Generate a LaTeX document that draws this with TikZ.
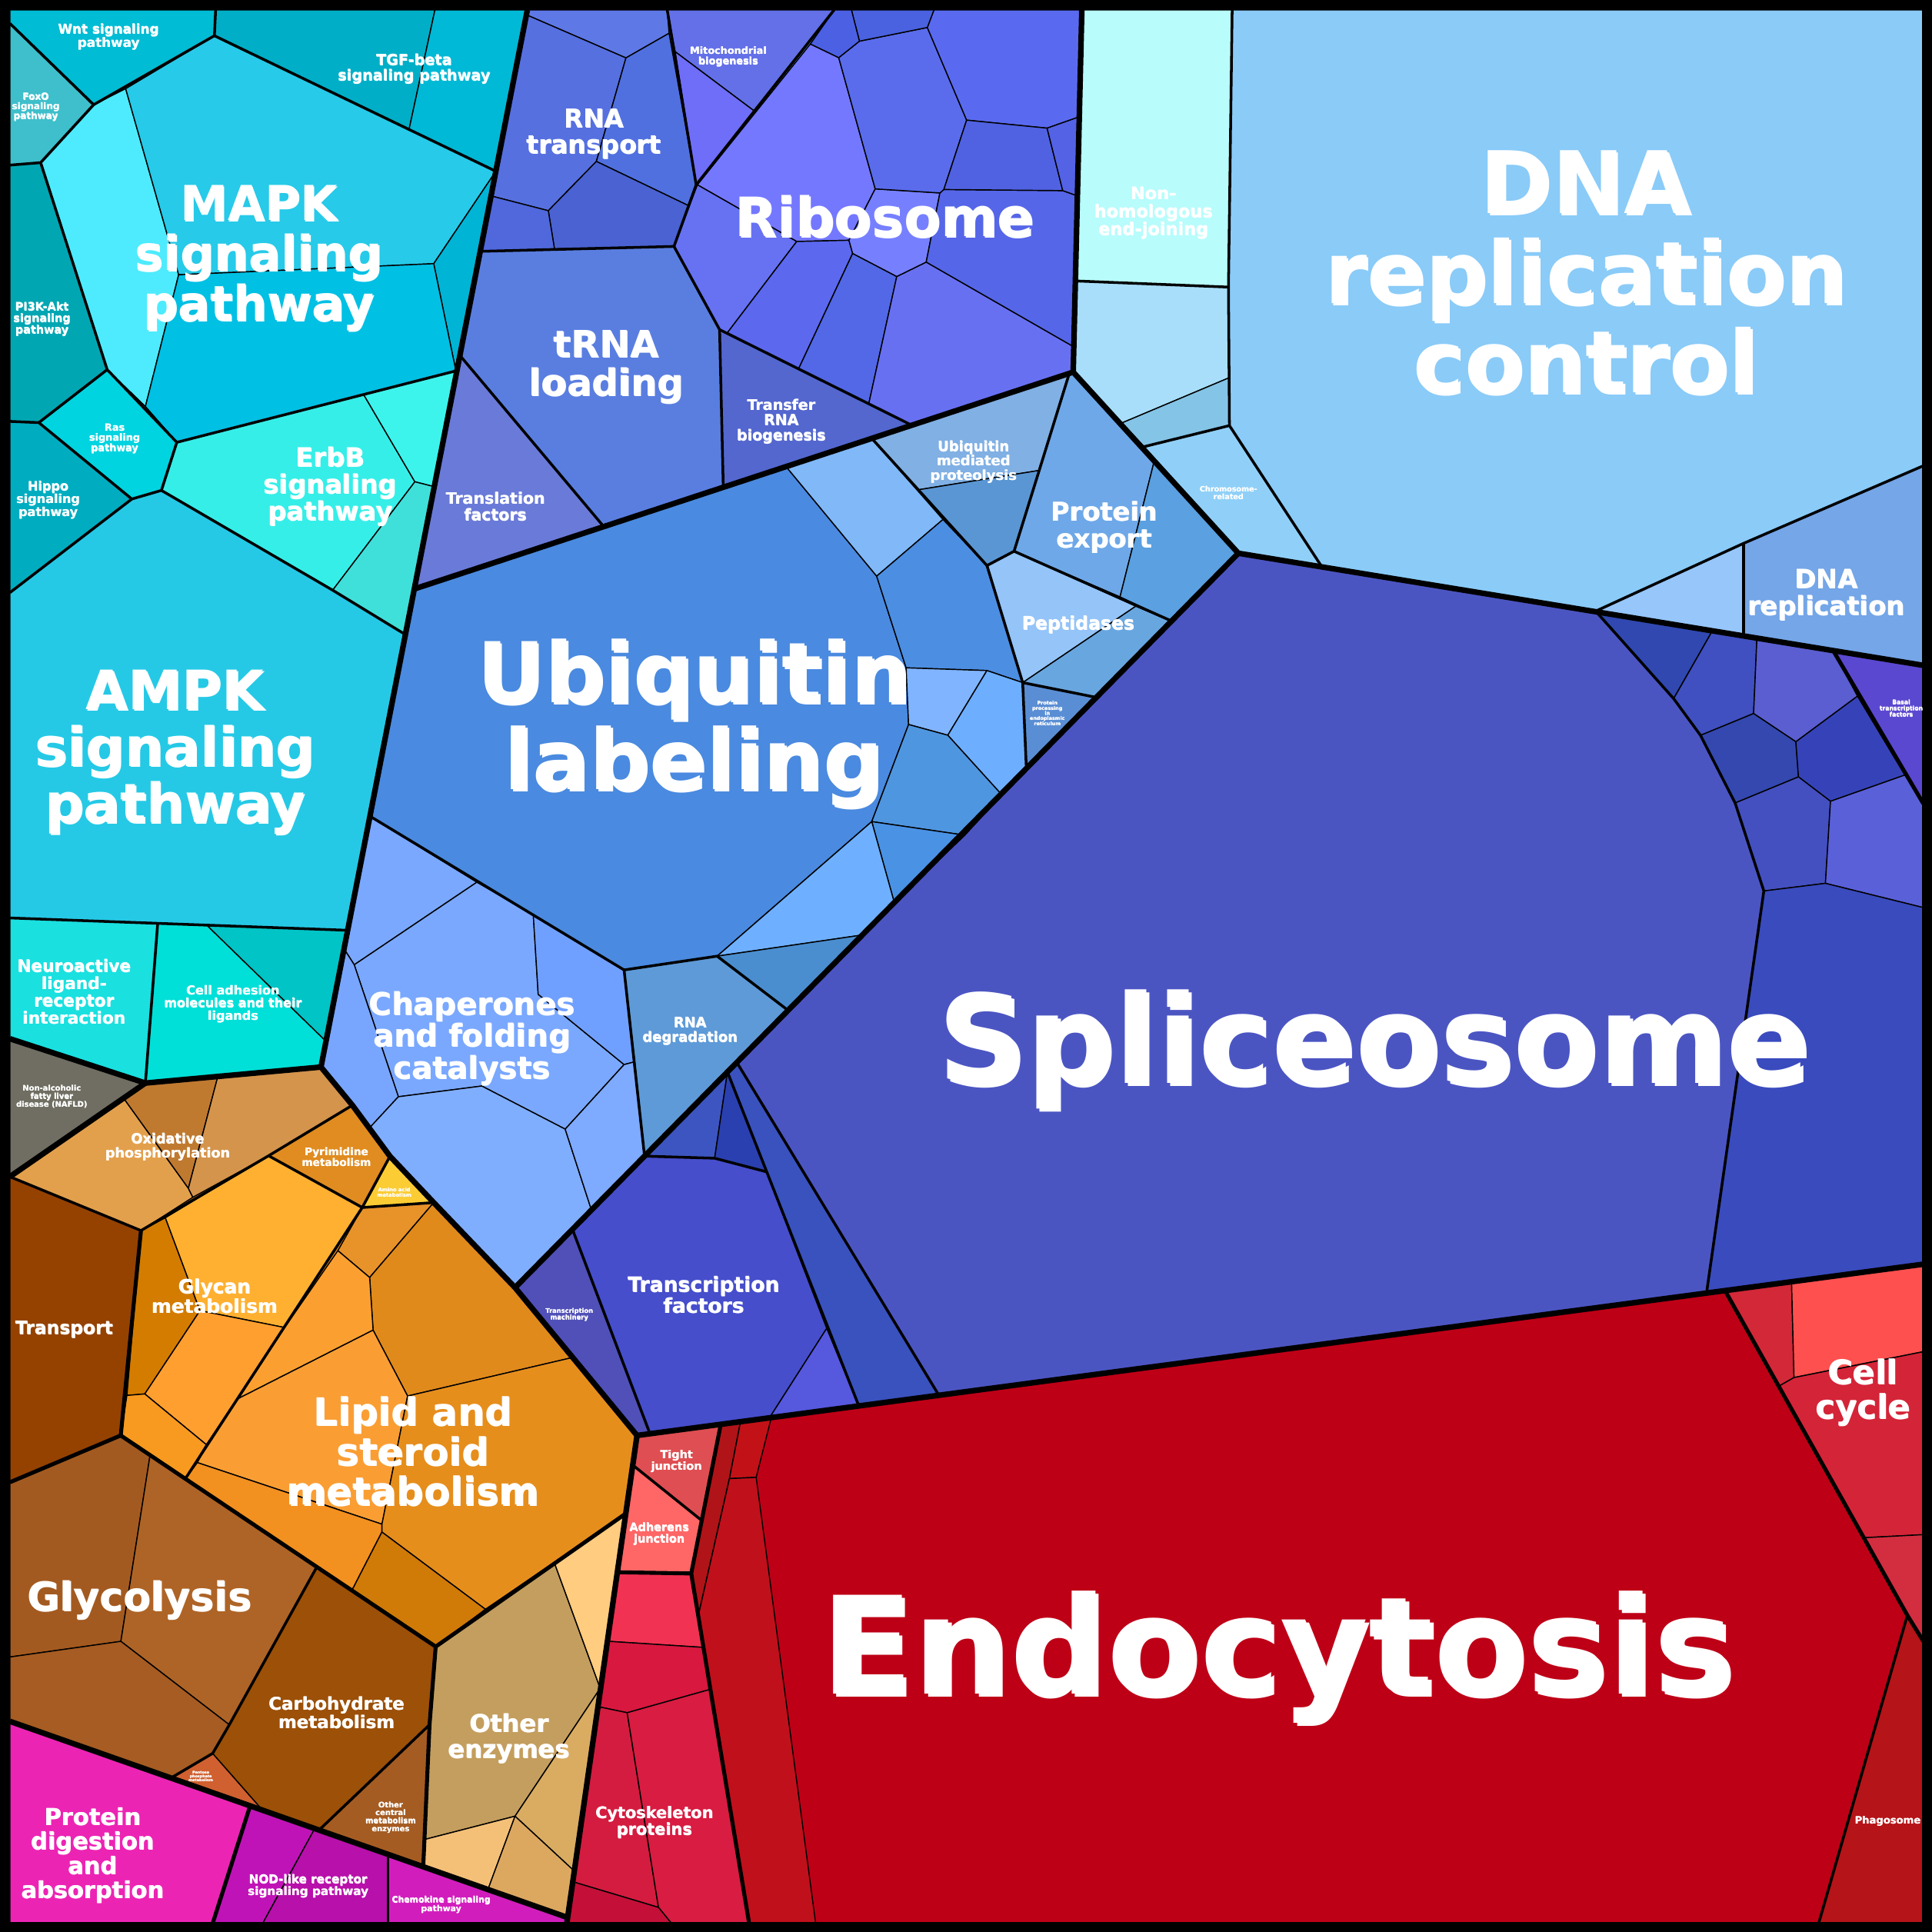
\documentclass[tikz,border=0pt]{standalone}
\usepackage{fontspec}
\setmainfont{DejaVu Sans}
\usetikzlibrary{calc}

\newcommand{\cell}[2]{\definecolor{cellfill}{HTML}{#1}\filldraw[cell] #2 -- cycle;}
\newcommand{\shtxt}[2]{\sbox0{\vbox{\let\\\cr\halign{\hfil##\hfil\cr#2\crcr}}}%
  \rlap{\kern\fpeval{0.025*#1}pt\raisebox{-\fpeval{0.025*#1}pt}{\textcolor{black!85}{\usebox0}}}\usebox0}
\newcommand{\lbl}[5]{%
  \node[lbltext, font={\fontsize{#4}{\fpeval{1.04*#4}}\selectfont\bfseries}] (#1) at (#2,#3) {\shtxt{#4}{#5}};}

\begin{document}
\begin{tikzpicture}[x=1pt,y=-1pt,line join=round]
\tikzstyle{cell} = [draw=black, line width=0.9pt, fill=cellfill]
\tikzstyle{subline} = [draw=black, line width=2.2pt]
\tikzstyle{midline} = [draw=black, line width=3.2pt]
\tikzstyle{groupline} = [draw=black, line width=4.5pt]
\tikzstyle{lbltext} = [text=white, inner sep=0pt]

\useasboundingbox (0,0) rectangle (1568,1568);
\fill[black] (0,0) rectangle (1568,1568);

\cell{24C8E4}{(8,8) -- (428,8) -- (260.5,866) -- (118,879) -- (8,843)}
\cell{5A7FE0}{(428,8) -- (878,8) -- (871,302) -- (336.2,478)}
\cell{8ACBF8}{(878,8) -- (1561,8) -- (1561,540) -- (1005,449) -- (871,302)}
\cell{4A8AE0}{(336.2,478) -- (871,302) -- (1005,449) -- (418,1045) -- (352,976) -- (316.5,938.4) -- (286,897) -- (260.5,866)}
\cell{4B55C2}{(1005,449) -- (1561,540) -- (1561,1026) -- (517,1165) -- (464.8,1101.7) -- (418,1045)}
\cell{BE0017}{(517,1165) -- (1561,1026) -- (1561,1561) -- (460,1561)}
\cell{706E62}{(8,843) -- (118,879) -- (8,955)}
\cell{E08A1C}{(118,879) -- (260.5,866) -- (286,897) -- (316.5,938.4) -- (352,976) -- (418,1045) -- (464.8,1101.7) -- (517,1165) -- (460,1556) -- (8,1397) -- (8,955)}
\cell{EC24B4}{(8,1397) -- (460,1556) -- (460,1561) -- (8,1561)}

\cell{00BCD4}{(8,8) -- (175,8) -- (174,29) -- (76,85) -- (8,19)}
\cell{3EBFCB}{(8,19) -- (76,85) -- (33,132) -- (8,134)}
\cell{00AFC7}{(175,8) -- (353,8) -- (332,105) -- (174,29)}
\cell{00B9D6}{(353,8) -- (428,8) -- (402.4,139) -- (332,105)}
\cell{4DEBFD}{(76,85) -- (102,72) -- (145,223) -- (118,330) -- (87,300) -- (33,132)}
\cell{27CAE8}{(102,72) -- (174,29) -- (402.4,139) -- (352,214) -- (145,223)}
\cell{00B4D6}{(402.4,139) -- (370,301) -- (352,214)}
\cell{00C0E4}{(145,223) -- (352,214) -- (370,301) -- (143.5,359) -- (118,330)}
\cell{00A7B3}{(8,134) -- (33,132) -- (87,300) -- (31.5,343) -- (8,342)}
\cell{00D4E0}{(87,300) -- (118,330) -- (143.5,359) -- (131,398) -- (107,405) -- (31.5,343)}
\cell{00ADC0}{(8,342) -- (31.5,343) -- (107,405) -- (8,481)}
\cell{36EEE8}{(143.5,359) -- (295,320) -- (336.7,391) -- (270,479) -- (131,398)}
\cell{3CF4EC}{(295,320) -- (370,301) -- (352.4,395) -- (336.7,391)}
\cell{40E0DA}{(336.7,391) -- (352.4,395) -- (329,515) -- (270,479)}
\cell{25C9E6}{(8,481) -- (107,405) -- (131,398) -- (270,479) -- (329,515) -- (282,755) -- (8,745)}
\cell{1AE0E0}{(8,745) -- (128,749) -- (118,879) -- (8,843)}
\cell{00E0D8}{(128,749) -- (168,751) -- (264.5,845) -- (260.5,866) -- (118,879)}
\cell{00C4C6}{(168,751) -- (282,755) -- (264.5,845)}

\cell{5E78E6}{(428,8) -- (541.5,8) -- (543,27) -- (508,47) -- (427.2,12)}
\cell{5670E0}{(427.2,12) -- (508,47) -- (484,131) -- (445,171) -- (398.5,159)}
\cell{5070E0}{(508,47) -- (543,27) -- (565,150) -- (559,167) -- (484,131)}
\cell{4A62D2}{(484,131) -- (559,167) -- (547,200) -- (450,202) -- (445,171)}
\cell{5068DC}{(398.5,159) -- (445,171) -- (450,202) -- (389.7,204)}
\cell{6370E8}{(541.5,8) -- (677,8) -- (612,90) -- (548,42)}
\cell{6E6EF8}{(548,42) -- (612,90) -- (565,150)}
\cell{5A7EE0}{(389.7,204) -- (547,200) -- (584,267.5) -- (587,395.5) -- (490,427.4) -- (373.2,288.4)}
\cell{6A7AD8}{(373.2,288.4) -- (490,427.4) -- (336.2,478)}
\cell{5367CF}{(584,267.5) -- (740,345.1) -- (587,395.5)}
\cell{7478FF}{(657.7,35.7) -- (680.7,46.8) -- (710.3,153.3) -- (689,195) -- (646.6,196) -- (566,150)}
\cell{6672F2}{(566,150) -- (646.6,196) -- (590,270.5) -- (584,267.5) -- (547,200)}
\cell{5C68EE}{(646.6,196) -- (689,195) -- (692,205.7) -- (648,299.6) -- (590,270.5)}
\cell{5268E6}{(692,205.7) -- (727.8,224.4) -- (705,328) -- (648,299.6)}
\cell{6870F2}{(727.8,224.4) -- (751.7,212.7) -- (871.5,281.5) -- (871,302) -- (740,345.1) -- (705,328)}
\cell{7680FF}{(710.3,153.3) -- (762.8,156.6) -- (751.7,212.7) -- (727.8,224.4) -- (692,205.7) -- (689,195)}
\cell{5566E8}{(762.8,156.6) -- (766,153.8) -- (862.5,154.7) -- (874.3,158.9) -- (871.5,281.5) -- (751.7,212.7)}
\cell{5A6CEC}{(680.7,46.8) -- (697.5,33.4) -- (752.6,22.3) -- (784.5,97.5) -- (766,153.8) -- (762.8,156.6) -- (710.3,153.3)}
\cell{5A6AF0}{(752.6,22.3) -- (758,8) -- (878,8) -- (876,94.8) -- (849.8,104) -- (784.5,97.5)}
\cell{5062E2}{(784.5,97.5) -- (849.8,104) -- (862.5,154.7) -- (766,153.8)}
\cell{5462E6}{(849.8,104) -- (876,94.8) -- (874.3,158.9) -- (862.5,154.7)}
\cell{4A62E0}{(697.5,33.4) -- (691,8) -- (758,8) -- (752.6,22.3)}
\cell{4C60E4}{(677,8) -- (691,8) -- (697.5,33.4) -- (680.7,46.8) -- (657.7,35.7)}

\cell{B8FCFC}{(878,8) -- (1000,8) -- (997,233) -- (872.8,228)}
\cell{A8DEFA}{(872.8,228) -- (997,233) -- (997.5,306.6) -- (910.4,343.3) -- (871,302)}
\cell{84C4E6}{(910.4,343.3) -- (997.5,306.6) -- (997.8,345.4) -- (928.5,362.5)}
\cell{90D0F8}{(928.5,362.5) -- (997.8,345.4) -- (1072.7,459.9) -- (1005,449)}
\cell{8ACBF8}{(1000,8) -- (1561,8) -- (1561,378) -- (1295,496) -- (1072.7,459.9) -- (997.8,345.4) -- (997.5,306.6) -- (997,233)}
\cell{96C6FA}{(1295,496) -- (1415,441) -- (1415,515.9)}
\cell{74A6E8}{(1415,441) -- (1561,378) -- (1561,540) -- (1415,515.9)}

\cell{4A8AE0}{(300.2,662.4) -- (336.2,478) -- (638,378.7) -- (711.5,467.6) -- (735.4,542) -- (737.4,588) -- (707.5,666.8) -- (582,776) -- (506.5,787.2)}
\cell{80B8F8}{(638,378.7) -- (707.5,355.8) -- (765.3,421.6) -- (711.5,467.6)}
\cell{80B0E4}{(707.5,355.8) -- (867.8,303.1) -- (843.4,381.8) -- (745.3,397.5)}
\cell{5A96D4}{(745.3,397.5) -- (843.4,381.8) -- (823,447.4) -- (801,459)}
\cell{4C8EE2}{(711.5,467.6) -- (765.3,421.6) -- (801,459) -- (830,554) -- (801,544.2) -- (735.4,542)}
\cell{94C4F8}{(801,459) -- (823,447.4) -- (921.8,492) -- (830,554)}
\cell{6EA8E8}{(871,302) -- (936.4,375.6) -- (909,484.4) -- (823,447.4) -- (843.4,381.8) -- (867.8,303.1)}
\cell{5BA0E0}{(936.4,375.6) -- (1005,449) -- (950.8,504) -- (909,484.4)}
\cell{68A6E0}{(830,554) -- (921.8,492) -- (950.8,504) -- (889.8,566)}
\cell{5A8ED4}{(830,554) -- (889.8,566) -- (833,624.3)}
\cell{80B4FF}{(735.4,542) -- (801,544.2) -- (769.2,596.7) -- (737.4,588)}
\cell{6EAEFF}{(801,544.2) -- (830,554) -- (833,624.3) -- (813,645) -- (769.2,596.7)}
\cell{4F96E0}{(737.4,588) -- (769.2,596.7) -- (813,645) -- (783,677.8) -- (707.5,666.8)}
\cell{5AA0F0}{(783,677.8) -- (813,645) -- (725.8,732.5)}
\cell{4A92E4}{(707.5,666.8) -- (783,677.8) -- (725.8,732.5)}
\cell{6EB0FF}{(582,776) -- (707.5,666.8) -- (725.8,732.5) -- (700,758.8)}
\cell{4A8ED0}{(582,776) -- (700,758.8) -- (639.6,820)}
\cell{5E9AD8}{(506.5,787.2) -- (582,776) -- (639.6,820) -- (523.1,938.3)}
\cell{7AA8FF}{(300.2,662.4) -- (387,716) -- (287.5,783) -- (279.2,770)}
\cell{7AA8FF}{(287.5,783) -- (387,716) -- (432.8,742.3) -- (436.8,807) -- (506.5,864) -- (458.7,916.4) -- (391,881.4) -- (323.3,890.1)}
\cell{70A0FF}{(432.8,742.3) -- (506.5,787.2) -- (515.2,861.7) -- (506.5,864) -- (436.8,807)}
\cell{78A6FF}{(279.2,770) -- (287.5,783) -- (323.3,890.1) -- (300,915.3) -- (286,897) -- (260.5,866)}
\cell{80AEFF}{(300,915.3) -- (323.3,890.1) -- (391,881.4) -- (458.7,916.4) -- (480,982) -- (418,1045) -- (352,976) -- (316.5,938.4)}
\cell{7EAAFF}{(458.7,916.4) -- (506.5,864) -- (515.2,861.7) -- (523.1,938.3) -- (480,982)}

\cell{5050B8}{(418,1045) -- (464.6,997.7) -- (527.5,1163.6) -- (517,1165) -- (464.8,1101.7)}
\cell{464ECC}{(464.6,997.7) -- (523.1,938.3) -- (580,940) -- (622,951) -- (671,1078) -- (624.5,1150.7) -- (527.5,1163.6)}
\cell{5658DE}{(671,1078) -- (697,1141) -- (624.5,1150.7)}
\cell{3D55C0}{(523.1,938.3) -- (590.4,870) -- (580,940)}
\cell{2A40B0}{(590.4,870) -- (580,940) -- (622,951)}
\cell{3A52BE}{(590.4,870) -- (598,862.2) -- (762,1132.4) -- (697,1141) -- (671,1078) -- (622,951)}
\cell{3048B0}{(1295,496) -- (1389.9,511.7) -- (1358.3,567)}
\cell{4050C0}{(1389.9,511.7) -- (1425.9,517.7) -- (1423.2,579.1) -- (1380.1,596.8) -- (1358.3,567)}
\cell{5A5ED0}{(1425.9,517.7) -- (1487.7,527.9) -- (1507.5,565) -- (1457.5,602) -- (1423.2,579.1)}
\cell{3448B0}{(1380.1,596.8) -- (1423.2,579.1) -- (1457.5,602) -- (1459.6,630.5) -- (1408.2,651.7)}
\cell{3643B8}{(1457.5,602) -- (1507.5,565) -- (1546,629) -- (1485.6,650.3) -- (1459.6,630.5)}
\cell{4450C0}{(1408.2,651.7) -- (1459.6,630.5) -- (1485.6,650.3) -- (1481.5,716.9) -- (1431.5,723.1)}
\cell{5A60D8}{(1485.6,650.3) -- (1546,629) -- (1561,652.3) -- (1561,736.6) -- (1481.5,716.9)}
\cell{3A4BBE}{(1431.5,723.1) -- (1481.5,716.9) -- (1561,736.6) -- (1561,1026) -- (1385,1049.4)}
\cell{5A48D0}{(1487.7,527.9) -- (1561,540) -- (1561,652.3)}

\cell{DF4E52}{(517,1165) -- (585,1155.9) -- (569.5,1234) -- (513.5,1189)}
\cell{FF6666}{(513.5,1189) -- (569.5,1234) -- (561,1277) -- (500.8,1276)}
\cell{B01418}{(585,1155.9) -- (601,1153.8) -- (592,1200) -- (566.8,1311) -- (561,1277)}
\cell{C21218}{(601,1153.8) -- (626,1150.5) -- (613.7,1199) -- (592,1200)}
\cell{C0101C}{(592,1200) -- (613.7,1199) -- (662,1561) -- (608,1561) -- (566.8,1311)}
\cell{D22838}{(1400,1047.4) -- (1454,1040.2) -- (1456,1118) -- (1443.7,1125)}
\cell{FF5050}{(1454,1040.2) -- (1561,1026) -- (1561,1097) -- (1456,1118)}
\cell{D42438}{(1443.7,1125) -- (1456,1118) -- (1561,1097) -- (1561,1245.5) -- (1512.7,1248)}
\cell{D22E40}{(1512.7,1248) -- (1561,1245.5) -- (1561,1332) -- (1548,1311)}
\cell{B51418}{(1548,1311) -- (1561,1332) -- (1561,1561) -- (1476,1561)}
\cell{F23252}{(500.8,1276) -- (561,1277) -- (570.9,1337) -- (492.7,1332)}
\cell{D8183F}{(492.7,1332) -- (570.9,1337) -- (576.6,1371) -- (509,1390) -- (484.9,1385)}
\cell{D41C40}{(484.9,1385) -- (509,1390) -- (534.4,1548) -- (464.2,1527)}
\cell{D81C42}{(509,1390) -- (576.6,1371) -- (608,1561) -- (545,1561) -- (534.4,1548)}
\cell{C41038}{(464.2,1527) -- (534.4,1548) -- (545,1561) -- (460,1561)}

\cell{E3A04C}{(8,955) -- (118,879) -- (100.3,891.2) -- (152.9,964.4) -- (156.5,971.7) -- (114.4,998.7)}
\cell{C07A30}{(100.3,891.2) -- (118,879) -- (176.8,873.6) -- (152.9,964.4)}
\cell{D4944C}{(176.8,873.6) -- (260.5,866) -- (286,897) -- (218,938) -- (156.5,971.7) -- (152.9,964.4)}
\cell{E08C20}{(218,938) -- (286,897) -- (316.5,938.4) -- (294,980)}
\cell{FCCC34}{(316.5,938.4) -- (352,976) -- (294,980)}
\cell{954200}{(8,955) -- (114.4,998.7) -- (98,1165) -- (8,1203)}
\cell{D47C00}{(114.4,998.7) -- (134.2,988.3) -- (162.3,1063.7) -- (117.5,1131.3) -- (103,1132.5)}
\cell{FFB030}{(134.2,988.3) -- (218,938) -- (294,980) -- (231,1077.4) -- (162.3,1063.7)}
\cell{FF9F30}{(162.3,1063.7) -- (231,1077.4) -- (167.5,1172.5) -- (117.5,1131.3)}
\cell{F89A20}{(103,1132.5) -- (117.5,1131.3) -- (167.5,1172.5) -- (150.8,1199.5) -- (98,1165)}
\cell{E8922A}{(294,980) -- (352,976) -- (300,1036.8) -- (274.2,1015)}
\cell{E08A1C}{(352,976) -- (418,1045) -- (464.8,1101.7) -- (330.8,1133) -- (302.8,1079.5) -- (300,1036.8)}
\cell{FBA030}{(274.2,1015) -- (300,1036.8) -- (302.8,1079.5) -- (193.5,1135) -- (231,1077.4)}
\cell{FA9E34}{(193.5,1135) -- (302.8,1079.5) -- (330.8,1133) -- (310,1237) -- (160.2,1187) -- (167.5,1172.5)}
\cell{F29020}{(150.8,1199.5) -- (160.2,1187) -- (310,1237) -- (310,1243.3) -- (286,1290)}
\cell{D07A08}{(286,1290) -- (310,1243.3) -- (394,1306) -- (353.6,1336.4)}
\cell{E68E1C}{(330.8,1133) -- (464.8,1101.7) -- (517,1165) -- (507.7,1228.5) -- (394,1306) -- (310,1243.3) -- (310,1237)}
\cell{A35A20}{(8,1203) -- (98,1165) -- (121.8,1181) -- (98.1,1332.1) -- (8,1344.8)}
\cell{AE6426}{(121.8,1181) -- (257.2,1271.6) -- (186.1,1399.8) -- (98.1,1332.1)}
\cell{A65C22}{(8,1344.8) -- (98.1,1332.1) -- (186.1,1399.8) -- (172.6,1423) -- (138.7,1443) -- (8,1397)}
\cell{D06030}{(138.7,1443) -- (172.6,1423) -- (213.2,1469.2)}
\cell{9C5008}{(257.2,1271.6) -- (353.6,1336.4) -- (348.6,1399.8) -- (258.9,1485.3) -- (213.2,1469.2) -- (172.6,1423) -- (186.1,1399.8)}
\cell{A55C22}{(348.6,1399.8) -- (343.5,1515) -- (258.9,1485.3)}
\cell{C49E5E}{(353.6,1336.4) -- (450,1268.5) -- (487.1,1370.2) -- (418,1474) -- (345,1492.8) -- (348.6,1399.8)}
\cell{FFCC80}{(450,1268.5) -- (507.7,1228.5) -- (487.1,1370.2)}
\cell{D9AC62}{(418,1474) -- (487.1,1370.2) -- (465.5,1518)}
\cell{F4C078}{(345,1492.8) -- (418,1474) -- (396,1533.5) -- (343.5,1515)}
\cell{DCA860}{(418,1474) -- (465.5,1518) -- (460,1556) -- (396,1533.5)}

\cell{C013B7}{(203,1465.6) -- (255.5,1484) -- (213.2,1561) -- (172.6,1561)}
\cell{B810AA}{(255.5,1484) -- (315,1505) -- (315,1561) -- (213.2,1561)}
\cell{D21DBD}{(315,1505) -- (460,1556) -- (460,1561) -- (315,1561)}

\draw[subline] (8,19) -- (76,85) -- (174,29) -- (175,8);
\draw[subline] (76,85) -- (33,132) -- (8,134);
\draw[subline] (174,29) -- (402.4,139);
\draw[subline] (33,132) -- (87,300) -- (143.5,359) -- (370,301);
\draw[subline] (87,300) -- (31.5,343) -- (8,342);
\draw[subline] (31.5,343) -- (107,405) -- (131,398) -- (143.5,359);
\draw[subline] (107,405) -- (8,481);
\draw[subline] (131,398) -- (270,479) -- (329,515);
\draw[subline] (8,745) -- (282,755);
\draw[subline] (128,749) -- (118,879);
\draw[subline] (541.5,8) -- (565,150) -- (547,200) -- (389.7,204);
\draw[subline] (677,8) -- (565,150);
\draw[subline] (547,200) -- (584,267.5) -- (740,345.1);
\draw[subline] (584,267.5) -- (587,395.5);
\draw[subline] (373.2,288.4) -- (490,427.4);
\draw[subline] (1000,8) -- (997,233) -- (997.8,345.4) -- (1072.7,459.9);
\draw[subline] (872.8,228) -- (997,233);
\draw[subline] (928.5,362.5) -- (997.8,345.4);
\draw[subline] (1295,496) -- (1415,441) -- (1561,378);
\draw[subline] (1415,441) -- (1415,515.9);
\draw[subline] (300.2,662.4) -- (506.5,787.2) -- (523.1,938.3);
\draw[subline] (506.5,787.2) -- (582,776) -- (639.6,820);
\draw[subline] (707.5,355.8) -- (801,459) -- (823,447.4) -- (843.4,381.8) -- (867.8,303.1);
\draw[subline] (801,459) -- (830,554) -- (833,624.3);
\draw[subline] (823,447.4) -- (950.8,504);
\draw[subline] (830,554) -- (889.8,566);
\draw[subline] (464.6,997.7) -- (527.5,1163.6);
\draw[subline] (523.1,938.3) -- (580,940) -- (622,951);
\draw[subline] (590.4,870) -- (697,1141);
\draw[subline] (598,862.2) -- (762,1132.4);
\draw[subline] (1295,496) -- (1358.3,567) -- (1380.1,596.8) -- (1408.2,651.7) -- (1431.5,723.1) -- (1385,1049.4);
\draw[midline] (1487.7,527.9) -- (1561,652.3);
\draw[midline] (585,1155.9) -- (561,1277) -- (500.8,1276);
\draw[midline] (561,1277) -- (608,1561);
\draw[midline] (1400,1047.4) -- (1548,1311) -- (1561,1332);
\draw[subline] (1548,1311) -- (1476,1561);
\draw[subline] (513.5,1189) -- (569.5,1234);
\draw[subline] (8,955) -- (114.4,998.7) -- (218,938) -- (286,897);
\draw[subline] (218,938) -- (294,980) -- (352,976);
\draw[subline] (316.5,938.4) -- (294,980);
\draw[midline] (114.4,998.7) -- (98,1165) -- (8,1203);
\draw[subline] (294,980) -- (150.8,1199.5);
\draw[midline] (98,1165) -- (353.6,1336.4);
\draw[midline] (353.6,1336.4) -- (507.7,1228.5);
\draw[midline] (353.6,1336.4) -- (348.6,1399.8) -- (343.5,1515);
\draw[subline] (257.2,1271.6) -- (186.1,1399.8) -- (172.6,1423) -- (138.7,1443);
\draw[subline] (348.6,1399.8) -- (258.9,1485.3);
\draw[midline] (203,1465.6) -- (172.6,1561);
\draw[subline] (315,1505) -- (315,1561);

\draw[groupline] (428,8) -- (260.5,866) -- (118,879) -- (8,843);
\draw[groupline] (118,879) -- (8,955);
\draw[groupline] (336.2,478) -- (871,302);
\draw[groupline] (878,8) -- (871,302) -- (1005,449) -- (1561,540);
\draw[groupline] (1005,449) -- (418,1045);
\draw[groupline] (260.5,866) -- (286,897) -- (316.5,938.4) -- (352,976) -- (418,1045) -- (464.8,1101.7) -- (517,1165);
\draw[groupline] (517,1165) -- (1561,1026);
\draw[groupline] (517,1165) -- (460,1561);
\draw[groupline] (8,1397) -- (460,1556);
\draw[line width=8pt] (4,4) rectangle (1564,1564);

\lbl{wnt}{88}{30}{10.5}{Wnt signaling\\pathway}
\lbl{foxo}{29}{87}{7.5}{FoxO\\signaling\\pathway}
\lbl{tgf}{336}{56}{12}{TGF-beta\\signaling pathway}
\lbl{mapk}{210}{210}{39}{MAPK\\signaling\\pathway}
\lbl{pi3k}{34}{259}{9}{PI3K-Akt\\signaling\\pathway}
\lbl{ras}{93}{356}{8}{Ras\\signaling\\pathway}
\lbl{hippo}{39}{406}{10}{Hippo\\signaling\\pathway}
\lbl{erbb}{268}{395}{21}{ErbB\\signaling\\pathway}
\lbl{ampk}{142}{611}{44}{AMPK\\signaling\\pathway}
\lbl{neuro}{60}{805}{13.5}{Neuroactive\\ligand-\\receptor\\interaction}
\lbl{celladh}{189}{815}{10}{Cell adhesion\\molecules and their\\ligands}
\lbl{nafld}{42}{890}{6.2}{Non-alcoholic\\fatty liver\\disease (NAFLD)}
\lbl{rnatr}{482}{109}{20.5}{RNA\\transport}
\lbl{mito}{591}{46}{8}{Mitochondrial\\biogenesis}
\lbl{ribo}{718}{176}{44}{Ribosome}
\lbl{trna}{492}{298}{30}{tRNA\\loading}
\lbl{transl}{402}{411}{12.8}{Translation\\factors}
\lbl{trnabio}{634}{342}{11.9}{Transfer\\RNA\\biogenesis}
\lbl{dnactl}{1287}{222}{70}{DNA\\replication\\control}
\lbl{nhej}{936}{173}{14}{Non-\\homologous\\end-joining}
\lbl{chrom}{997}{400}{6}{Chromosome-\\related}
\lbl{dnarep}{1482}{483}{21}{DNA\\replication}
\lbl{ubq}{563}{588}{68}{Ubiquitin\\labeling}
\lbl{chap}{383}{843}{25}{Chaperones\\and folding\\catalysts}
\lbl{rnadeg}{560}{837}{11.2}{RNA\\degradation}
\lbl{ump}{790}{375}{11.2}{Ubiquitin\\mediated\\proteolysis}
\lbl{pexp}{896}{428}{21}{Protein\\export}
\lbl{pept}{875}{507}{14.7}{Peptidases}
\lbl{per}{850}{579}{4}{Protein\\processing\\in\\endoplasmic\\reticulum}
\lbl{splice}{1115}{853}{100}{Spliceosome}
\lbl{tf}{571}{1051}{16.6}{Transcription\\factors}
\lbl{mach}{462}{1067}{5.2}{Transcription\\machinery}
\lbl{basal}{1543}{575}{4.8}{Basal\\transcription\\factors}
\lbl{endo}{1037}{1346}{110}{Endocytosis}
\lbl{ccycle}{1512}{1130}{27}{Cell\\cycle}
\lbl{tight}{549}{1186}{9}{Tight\\junction}
\lbl{adh}{535}{1245}{9}{Adherens\\junction}
\lbl{cyto}{531}{1479}{13}{Cytoskeleton\\proteins}
\lbl{phago}{1532}{1478}{8.2}{Phagosome}
\lbl{oxphos}{136}{931}{11}{Oxidative\\phosphorylation}
\lbl{pyr}{273}{939}{8.5}{Pyrimidine\\metabolism}
\lbl{amino}{320}{968}{4.2}{Amino acid\\metabolism}
\lbl{transp}{52}{1079}{14.6}{Transport}
\lbl{glycan}{174}{1052}{15.5}{Glycan\\metabolism}
\lbl{lipid}{335}{1178}{31}{Lipid and\\steroid\\metabolism}
\lbl{glyco}{113}{1299}{32.4}{Glycolysis}
\lbl{carb}{273}{1390}{14.3}{Carbohydrate\\metabolism}
\lbl{ocm}{317}{1475}{6.2}{Other\\central\\metabolism\\enzymes}
\lbl{pent}{163}{1442}{3}{Pentose\\phosphate\\metabolism}
\lbl{oenz}{413}{1411}{20}{Other\\enzymes}
\lbl{protdig}{75}{1506}{19}{Protein\\digestion\\and\\absorption}
\lbl{nod}{250}{1531}{9.5}{NOD-like receptor\\signaling pathway}
\lbl{chemo}{358}{1546}{6.8}{Chemokine signaling\\pathway}
\end{tikzpicture}
\end{document}
